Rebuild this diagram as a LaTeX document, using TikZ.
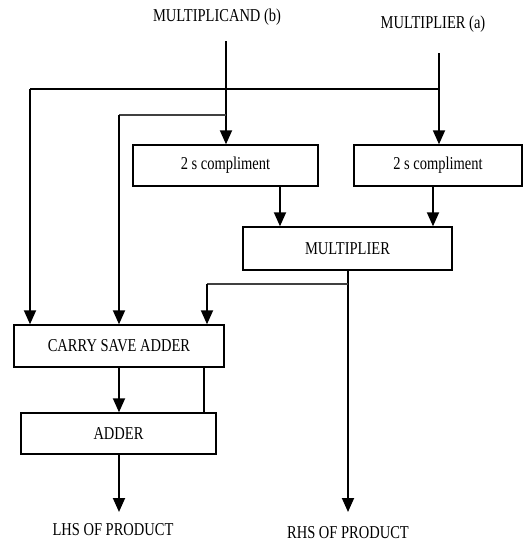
\documentclass[tikz,border=0pt]{standalone}
\usepackage{fontspec}
\usepackage{graphicx}
\setmainfont{Liberation Serif}
\usetikzlibrary{arrows.meta}
% slightly tall lettering
\newcommand\tall[1]{\scalebox{1}[1.25]{#1}}
\begin{document}
\begin{tikzpicture}[x=1pt,y=-1pt,
  lbl/.style={inner sep=0pt,font=\fontsize{14.5}{16}\selectfont},
  blk/.style={draw,line width=1.4pt,inner sep=0pt,font=\fontsize{14.5}{16}\selectfont},
  wire/.style={line width=1.8pt},
  thin wire/.style={line width=1.2pt,draw=black!75},
  arr/.style={wire,-{Triangle[length=14pt,width=12pt]}}]
\useasboundingbox (0,0) rectangle (527,542);

% input labels
\node[lbl] (mcand) at (217,17) {\tall{MULTIPLICAND (b)}};
\node[lbl] (mplier) at (433,24) {\tall{MULTIPLIER (a)}};

% blocks
\node[blk,minimum width=185pt,minimum height=41pt] (c1) at (225.5,165.5) {\tall{2 s compliment}};
\node[blk,minimum width=168pt,minimum height=41pt] (c2) at (438,165.5) {\tall{2 s compliment}};
\node[blk,minimum width=209pt,minimum height=43pt] (mul) at (347.5,248.5) {\tall{MULTIPLIER}};
\node[blk,minimum width=210pt,minimum height=42pt] (csa) at (119,346) {\tall{CARRY SAVE ADDER}};
\node[blk,minimum width=195pt,minimum height=41pt] (add) at (118.5,433.5) {\tall{ADDER}};

% output labels
\node[lbl] (lhs) at (113,530) {\tall{LHS OF PRODUCT}};
\node[lbl] (rhs) at (348,533) {\tall{RHS OF PRODUCT}};

% wire end points and junctions
\coordinate (bsrc) at (226,41);
\coordinate (asrc) at (439,53);
\coordinate (ja) at (439,89);
\coordinate (jb) at (226,115);
\coordinate (la) at (30,89);
\coordinate (lb) at (119,115);
\coordinate (jm) at (348,284);
\coordinate (lm) at (207,284);
\coordinate (ltip) at (119,512);
\coordinate (rtip) at (348,512);

% operand inputs
\draw[arr] (bsrc) -- (c1.north -| bsrc);
\draw[arr] (asrc) -- (c2.north -| asrc);

% raw operands to the carry save adder
\draw[wire] (ja) -- (la);
\draw[arr] (la) -- (csa.north -| la);
\draw[thin wire] (jb) -- (lb);
\draw[arr] (lb) -- (csa.north -| lb);

% complements into the multiplier
\draw[arr] (c1.south -| 280,0) -- (mul.north -| 280,0);
\draw[arr] (c2.south -| 433,0) -- (mul.north -| 433,0);

% multiplier outputs
\draw[arr] (mul.south -| rtip) -- (rtip);
\draw[thin wire] (jm) -- (lm);
\draw[arr] (lm) -- (csa.north -| lm);

% carry save adder to adder
\draw[arr] (csa.south -| 119,0) -- (add.north -| 119,0);
\draw[wire,line width=1.3pt] (csa.south -| 204,0) -- (add.north -| 204,0);

% final adder output
\draw[arr] (add.south -| ltip) -- (ltip);
\end{tikzpicture}
\end{document}
